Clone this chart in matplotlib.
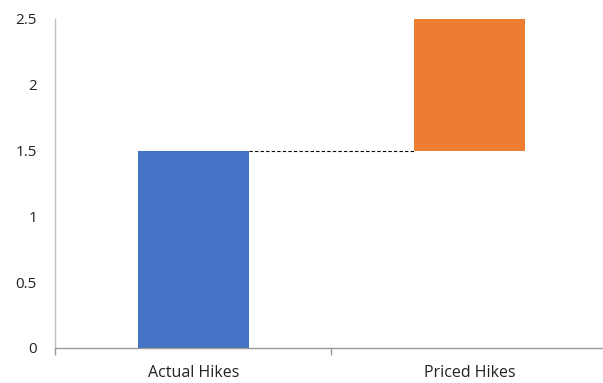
import matplotlib.pyplot as plt
from matplotlib.ticker import FixedLocator

categories = ["Actual Hikes", "Priced Hikes"]
bar_bottoms = [0.0, 1.5]
bar_heights = [1.5, 1.0]
bar_colors = ["#4472C4", "#ED7D31"]
y_ticks = [0, 0.5, 1, 1.5, 2, 2.5]
y_tick_labels = ["0", "0.5", "1", "1.5", "2", "2.5"]

plt.rcParams["font.family"] = ["Open Sans", "DejaVu Sans"]

fig = plt.figure(figsize=(6.03, 3.83), dpi=100)
ax = fig.add_axes([0.0912, 0.0914, 0.917, 0.8590])

x = list(range(len(categories)))
width = 0.4
ax.bar(x, bar_heights, bottom=bar_bottoms, width=width, color=bar_colors, zorder=2)

# connector from the top of the first bar to the base of the second
level = bar_bottoms[0] + bar_heights[0]
ax.plot([x[0] + width / 2, x[1] - width / 2], [level, level],
        color="black", linewidth=0.8, linestyle=(0, (3, 2)), zorder=3)

ax.set_xlim(-0.5, len(categories) - 0.5)
ax.set_ylim(0, 2.5)

ax.set_yticks(y_ticks)
ax.set_yticklabels(y_tick_labels)
ax.tick_params(axis="y", length=0, pad=13, labelsize=11, labelcolor="#222222")

ax.set_xticks(x)
ax.set_xticklabels(categories)
ax.xaxis.set_minor_locator(FixedLocator([-0.5, 0.5, 1.5]))
ax.tick_params(axis="x", which="major", length=0, pad=12, labelsize=11.5, labelcolor="#222222")
ax.tick_params(axis="x", which="minor", length=5, width=1.0, color="#999999")

for side in ["top", "right"]:
    ax.spines[side].set_visible(False)
ax.spines["left"].set_color("#BFBFBF")
ax.spines["bottom"].set_color("#999999")
ax.spines["left"].set_linewidth(1.0)
ax.spines["bottom"].set_linewidth(1.0)

fig.savefig("out.png", dpi=100)
